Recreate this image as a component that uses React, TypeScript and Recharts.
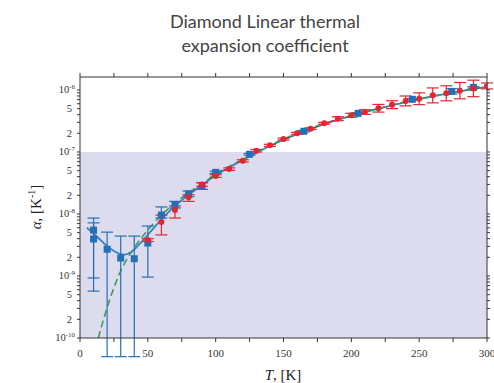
import React from "react";
import {
  ComposedChart,
  Line,
  Scatter,
  ErrorBar,
  XAxis,
  YAxis,
  ReferenceArea,
  Label,
} from "recharts";

// measured points (blue squares)
const blueT = [10, 10, 20, 30, 40, 50, 60, 70, 80, 90, 100, 125, 165, 205, 245, 274, 290];
const blueA = [5.5e-9, 3.95e-9, 2.7e-9, 1.95e-9, 1.9e-9, 3.4e-9, 9.6e-9, 1.4e-8, 2.1e-8, 2.83e-8, 4.7e-8, 9.2e-8, 2.16e-7, 4.2e-7, 7.08e-7, 9.5e-7, 1.1e-6];
const blueLo = [5.7e-10, 9.3e-10, 5e-11, 5e-11, 5e-11, 9.6e-10, 8.6e-9, 1.25e-8, 1.9e-8, 2.5e-8, 4.5e-8, 8.9e-8, 2.1e-7, 4.1e-7, 6.9e-7, 8.6e-7, 1.07e-6];
const blueHi = [8.6e-9, 7.2e-9, 5.1e-9, 4.4e-9, 4.4e-9, 6.4e-9, 1.3e-8, 1.6e-8, 2.35e-8, 3.2e-8, 4.9e-8, 9.5e-8, 2.22e-7, 4.3e-7, 7.25e-7, 1.05e-6, 1.13e-6];

// measured points (red circles)
const redT = [50, 60, 70, 80, 90, 100, 110, 120, 130, 140, 150, 160, 170, 180, 190, 200, 210, 220, 230, 240, 250, 260, 270, 280, 290, 300];
const redA = [3.8e-9, 7.4e-9, 1.16e-8, 1.86e-8, 3.0e-8, 4.1e-8, 5.3e-8, 7.2e-8, 1.05e-7, 1.28e-7, 1.62e-7, 2.0e-7, 2.38e-7, 2.9e-7, 3.44e-7, 3.9e-7, 4.4e-7, 5.07e-7, 5.8e-7, 6.65e-7, 7.2e-7, 8.2e-7, 8.85e-7, 9.75e-7, 1.06e-6, 1.16e-6];
const redLo = [3.6e-9, 4.6e-9, 8.6e-9, 1.6e-8, 2.8e-8, 3.9e-8, 5.05e-8, 6.9e-8, 1.0e-7, 1.23e-7, 1.56e-7, 1.93e-7, 2.3e-7, 2.8e-7, 3.2e-7, 3.63e-7, 4.05e-7, 4.4e-7, 5.0e-7, 5.55e-7, 5.8e-7, 6.2e-7, 6.7e-7, 7.2e-7, 7.8e-7, 1.04e-6];
const redHi = [4.0e-9, 9.6e-9, 1.35e-8, 2.05e-8, 3.2e-8, 4.3e-8, 5.55e-8, 7.5e-8, 1.1e-7, 1.33e-7, 1.68e-7, 2.07e-7, 2.46e-7, 3.0e-7, 3.7e-7, 4.2e-7, 4.8e-7, 5.85e-7, 6.7e-7, 8.0e-7, 9.0e-7, 1.08e-6, 1.17e-6, 1.32e-6, 1.44e-6, 1.3e-6];

// fitted curves
const fitT = [5, 10, 15, 20, 25, 30, 35, 40, 50, 60, 70, 80, 90, 100, 120, 140, 160, 180, 200, 220, 240, 260, 280, 300];
const fitA = [6e-9, 4.9e-9, 3.8e-9, 3.0e-9, 2.5e-9, 2.2e-9, 2.2e-9, 2.6e-9, 4.6e-9, 8.4e-9, 1.35e-8, 2.05e-8, 2.95e-8, 4.3e-8, 7.5e-8, 1.27e-7, 1.97e-7, 2.85e-7, 3.85e-7, 5.0e-7, 6.4e-7, 7.9e-7, 9.5e-7, 1.12e-6];
const modelT = [13.5, 20, 30, 40, 50, 60, 70, 80, 90, 100, 120, 140, 160, 180, 200, 220, 240, 260, 280, 300];
const modelA = [1e-10, 3.1e-10, 1.2e-9, 2.85e-9, 5.5e-9, 9.6e-9, 1.5e-8, 2.2e-8, 3.05e-8, 4.4e-8, 7.6e-8, 1.28e-7, 2.0e-7, 2.87e-7, 3.9e-7, 5.05e-7, 6.45e-7, 7.95e-7, 9.6e-7, 1.13e-6];

const xTicks = [0, 25, 50, 75, 100, 125, 150, 175, 200, 225, 250, 275, 300];
const yTicks: number[] = [];
for (let e = -10; e <= -7; e++) for (let m = 1; m <= 9; m++) yTicks.push(Number((m * Math.pow(10, e)).toPrecision(3)));
yTicks.push(1e-6);

const Y_MIN = 1e-10;
const Y_MAX = 1.62e-6;
const PLOT_TOP = 77; // margin.top + top axis height

const BLUE = "#2470b6";
const LINE_BLUE = "#3580c2";
const RED = "#e52530";
const GREEN = "#3f9a55";
const AXIS = "#333";
const SERIF = "'Liberation Serif', 'Times New Roman', serif";

const blueData = blueT.map((t, i) => ({ T: t, a: blueA[i], err: [blueA[i] - blueLo[i], blueHi[i] - blueA[i]] }));
const redData = redT.map((t, i) => ({ T: t, a: redA[i], err: [redA[i] - redLo[i], redHi[i] - redA[i]] }));
const fitData = fitT.map((t, i) => ({ T: t, a: fitA[i] }));
const modelData = modelT.map((t, i) => ({ T: t, a: modelA[i] }));

function YTick({ x, y, payload }: any) {
  const v = payload.value;
  const e = Math.floor(Math.log10(v) + 1e-9);
  const m = Math.round(v / Math.pow(10, e));
  if (m === 1) {
    return (
      <text x={x} y={y + 3} textAnchor="end" fontFamily={SERIF} fontSize={10.5} fill="#333">
        10<tspan dy={-4} fontSize={7}>{e}</tspan>
      </text>
    );
  }
  if (m === 2 || m === 5) {
    return (
      <text x={x - 3} y={y + 3.5} textAnchor="end" fontFamily={SERIF} fontSize={10.5} fill="#333">
        {m}
      </text>
    );
  }
  return null;
}

// bottom tick label, plus the matching tick on the top frame (the top axis won't draw its own)
function XTick({ x, y, payload }: any) {
  return (
    <g>
      <line x1={x} x2={x} y1={PLOT_TOP - 4} y2={PLOT_TOP} stroke={AXIS} />
      {payload.value % 50 === 0 && (
        <text x={x} y={y + 13} textAnchor="middle" fontFamily={SERIF} fontSize={11} fill="#333">
          {payload.value}
        </text>
      )}
    </g>
  );
}

const blank = () => "";

function YLabel() {
  return (
    <text transform="translate(41, 207) rotate(-90)" textAnchor="middle" fontFamily={SERIF} fontSize={15} fill="#222">
      <tspan fontStyle="italic">α</tspan>,  [K<tspan dy={-6} fontSize={10}>-1</tspan>
      <tspan dy={6}>]</tspan>
    </text>
  );
}

function XLabel() {
  return (
    <text x={283} y={380} textAnchor="middle" fontFamily={SERIF} fontSize={15} fill="#222">
      <tspan fontStyle="italic">T</tspan>, [K]
    </text>
  );
}

const square = (p: any) => <rect x={p.cx - 3.5} y={p.cy - 3.5} width={7} height={7} fill={BLUE} />;
const dot = (p: any) => <circle cx={p.cx} cy={p.cy} r={3} fill={RED} />;

export default function App() {
  return (
    <div style={{ position: "absolute", left: 0, top: 0, width: 494, height: 383, background: "#fff", overflow: "hidden" }}>
      <div
        style={{
          position: "absolute",
          left: 65,
          top: 9,
          width: 400,
          textAlign: "center",
          fontFamily: "Lato, sans-serif",
          fontSize: 18,
          lineHeight: "24px",
          color: "#444",
        }}
      >
        Diamond Linear thermal
        <br />
        expansion coefficient
      </div>
      <ComposedChart width={494} height={383} margin={{ top: 62, right: 0, bottom: 0, left: 0 }}>
        <XAxis
          xAxisId="b"
          dataKey="T"
          type="number"
          domain={[0, 300]}
          ticks={xTicks}
          height={45}
          stroke={AXIS}
          tickSize={4}
          tick={<XTick />}
          interval={0}
          allowDataOverflow
        >
          <Label content={<XLabel />} />
        </XAxis>
        <XAxis
          xAxisId="t"
          dataKey="T"
          orientation="top"
          type="number"
          domain={[0, 300]}
          ticks={xTicks}
          height={15}
          stroke={AXIS}
          tickLine={false}
          tickFormatter={blank}
          interval={0}
          allowDataOverflow
        />
        <YAxis
          yAxisId="l"
          dataKey="a"
          type="number"
          scale="log"
          domain={[Y_MIN, Y_MAX]}
          ticks={yTicks}
          width={80}
          stroke={AXIS}
          tickSize={3}
          tick={<YTick />}
          interval={0}
          allowDataOverflow
        >
          <Label content={<YLabel />} />
        </YAxis>
        <YAxis
          yAxisId="r"
          dataKey="a"
          orientation="right"
          type="number"
          scale="log"
          domain={[Y_MIN, Y_MAX]}
          ticks={yTicks}
          width={7}
          stroke={AXIS}
          tickSize={3}
          tickLine={{ stroke: AXIS }}
          tickFormatter={blank}
          interval={0}
          allowDataOverflow
        />
        <ReferenceArea
          xAxisId="b"
          yAxisId="l"
          x1={0}
          x2={300}
          y1={Y_MIN}
          y2={1e-7}
          fill="#dcdcee"
          fillOpacity={1}
          stroke="none"
        />
        {/* invisible series so the mirrored frame axes get their ticks */}
        <Line
          xAxisId="t"
          yAxisId="r"
          data={fitData}
          dataKey="a"
          stroke="none"
          dot={false}
          activeDot={false}
          legendType="none"
          isAnimationActive={false}
        />
        <Line
          xAxisId="b"
          yAxisId="l"
          data={fitData}
          dataKey="a"
          type="basis"
          stroke={LINE_BLUE}
          strokeWidth={1.8}
          dot={false}
          isAnimationActive={false}
        />
        <Line
          xAxisId="b"
          yAxisId="l"
          data={modelData}
          dataKey="a"
          type="monotone"
          stroke={GREEN}
          strokeWidth={1.6}
          strokeDasharray="7 4"
          dot={false}
          isAnimationActive={false}
        />
        <Scatter xAxisId="b" yAxisId="l" data={blueData} dataKey="a" shape={square} isAnimationActive={false}>
          <ErrorBar dataKey="err" direction="y" width={6} stroke={BLUE} strokeWidth={1.2} />
        </Scatter>
        <Scatter xAxisId="b" yAxisId="l" data={redData} dataKey="a" shape={dot} isAnimationActive={false}>
          <ErrorBar dataKey="err" direction="y" width={6} stroke={RED} strokeWidth={1.2} />
        </Scatter>
      </ComposedChart>
    </div>
  );
}
